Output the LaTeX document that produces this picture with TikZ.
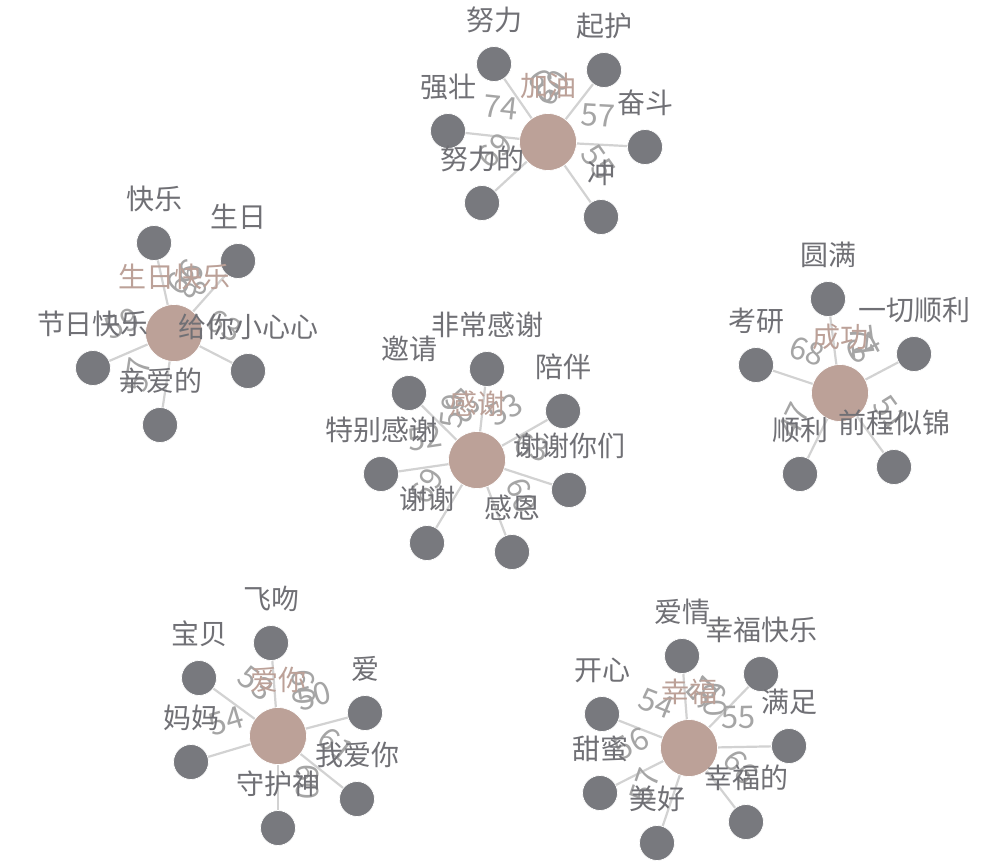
\documentclass[tikz,border=0pt]{standalone}
\usepackage{fontspec}
\setmainfont{Noto Sans CJK SC}
\pgfdeclarelayer{bg}
\pgfdeclarelayer{fg}
\pgfsetlayers{bg,main,fg}
\definecolor{hubc}{RGB}{188,161,152}
\definecolor{leafc}{RGB}{120,121,126}
\definecolor{edgec}{RGB}{210,210,210}
\definecolor{labc}{RGB}{112,112,117}
\definecolor{numc}{RGB}{165,165,165}
\tikzset{
  hub/.style={circle, fill=hubc, draw=white, line width=0.7pt, minimum size=57pt, inner sep=0pt},
  leaf/.style={circle, fill=leafc, draw=white, line width=0.7pt, minimum size=35pt, inner sep=0pt},
  lab/.style={text=labc, font=\fontsize{28}{30}\selectfont, inner sep=0pt},
  hublab/.style={lab, text=hubc},
  spokeline/.style={draw=edgec, line width=2.2pt},
  elab/.style={midway, sloped, above=17pt, text=numc, font=\fontsize{31}{33}\selectfont, inner sep=0pt}
}
\newcommand\hubnode[4]{%
  \node[hub] (#1) at (#2,-#3) {};
  \begin{pgfonlayer}{fg}\node[hublab] (#1t) at (#2,{-#3+56}) {#4};\end{pgfonlayer}}
\newcommand\leafnode[4]{%
  \node[leaf] (#1) at (#2,-#3) {};
  \begin{pgfonlayer}{fg}\node[lab] (#1t) at (#2,{-#3+44}) {#4};\end{pgfonlayer}}
\newcommand\spoke[3]{%
  \begin{pgfonlayer}{bg}\draw[spokeline] (#1.center) -- node[elab]{#3} (#2.center);\end{pgfonlayer}}
\begin{document}
\begin{tikzpicture}[x=1pt,y=1pt]
\begin{pgfonlayer}{bg}
\fill[white] (0,0) rectangle (997,-867);
\end{pgfonlayer}
\useasboundingbox (0,0) rectangle (997,-867);
% cluster A
\hubnode{A}{548}{142}{加油}
\leafnode{A1}{494}{64}{努力}
\leafnode{A2}{604}{70}{起护}
\leafnode{A3}{448}{131}{强壮}
\leafnode{A4}{645}{147}{奋斗}
\leafnode{A5}{482}{203}{努力的}
\leafnode{A6}{601}{217}{冲}
\spoke{A}{A1}{63}
\spoke{A}{A2}{60}
\spoke{A}{A3}{74}
\spoke{A}{A4}{57}
\spoke{A}{A5}{69}
\spoke{A}{A6}{55}
% cluster B
\hubnode{B}{174}{333}{生日快乐}
\leafnode{B1}{154}{243}{快乐}
\leafnode{B2}{238}{261}{生日}
\leafnode{B3}{93}{368}{节日快乐}
\leafnode{B4}{248}{371}{给你小心心}
\leafnode{B5}{160}{425}{亲爱的}
\spoke{B}{B1}{68}
\spoke{B}{B2}{66}
\spoke{B}{B3}{59}
\spoke{B}{B4}{63}
\spoke{B}{B5}{57}
% cluster C
\hubnode{C}{477}{460}{感谢}
\leafnode{C1}{487}{369}{非常感谢}
\leafnode{C2}{409}{393}{邀请}
\leafnode{C3}{563}{411}{陪伴}
\leafnode{C4}{381}{474}{特别感谢}
\leafnode{C5}{569}{490}{谢谢你们}
\leafnode{C6}{427}{543}{谢谢}
\leafnode{C7}{512}{552}{感恩}
\spoke{C}{C1}{59}
\spoke{C}{C2}{53}
\spoke{C}{C3}{53}
\spoke{C}{C4}{52}
\spoke{C}{C5}{63}
\spoke{C}{C6}{69}
\spoke{C}{C7}{60}
% cluster D
\hubnode{D}{840}{393}{成功}
\leafnode{D1}{828}{299}{圆满}
\leafnode{D2}{756}{365}{考研}
\leafnode{D3}{914}{354}{一切顺利}
\leafnode{D4}{800}{474}{顺利}
\leafnode{D5}{894}{467}{前程似锦}
\spoke{D}{D1}{71}
\spoke{D}{D2}{68}
\spoke{D}{D3}{64}
\spoke{D}{D4}{47}
\spoke{D}{D5}{51}
% cluster E
\hubnode{E}{278}{736}{爱你}
\leafnode{E1}{271}{643}{飞吻}
\leafnode{E2}{199}{678}{宝贝}
\leafnode{E3}{365}{713}{爱}
\leafnode{E4}{191}{762}{妈妈}
\leafnode{E5}{357}{799}{我爱你}
\leafnode{E6}{278}{828}{守护神}
\spoke{E}{E1}{60}
\spoke{E}{E2}{53}
\spoke{E}{E3}{50}
\spoke{E}{E4}{54}
\spoke{E}{E5}{61}
\spoke{E}{E6}{60}
% cluster F
\hubnode{F}{689}{748}{幸福}
\leafnode{F1}{682}{656}{爱情}
\leafnode{F2}{761}{674}{幸福快乐}
\leafnode{F3}{602}{714}{开心}
\leafnode{F4}{789}{746}{满足}
\leafnode{F5}{600}{793}{甜蜜}
\leafnode{F6}{746}{822}{幸福的}
\leafnode{F7}{657}{843}{美好}
\spoke{F}{F1}{60}
\spoke{F}{F2}{51}
\spoke{F}{F3}{54}
\spoke{F}{F4}{55}
\spoke{F}{F5}{56}
\spoke{F}{F6}{66}
\spoke{F}{F7}{57}
\end{tikzpicture}
\end{document}
